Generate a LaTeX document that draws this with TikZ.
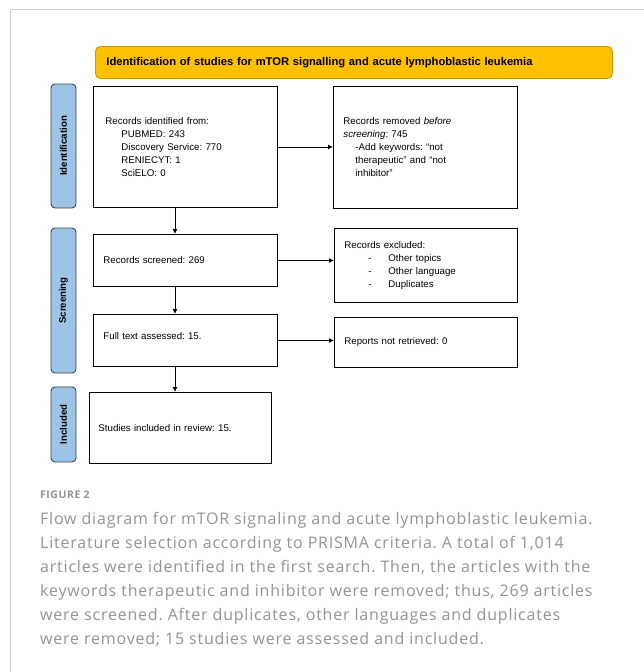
\documentclass[tikz,border=0pt]{standalone}
\usepackage{fontspec}
\setmainfont{Liberation Sans}
\newfontfamily\captionfont[LetterSpace=5]{Open Sans}
\usetikzlibrary{arrows.meta}
\frenchspacing

\definecolor{titleyellow}{HTML}{FFC000}
\definecolor{titleedge}{HTML}{C99A06}
\definecolor{phaseblue}{HTML}{9DC3E6}
\definecolor{phaseedge}{HTML}{3A4450}
\definecolor{captiongray}{HTML}{939393}
\definecolor{framegray}{HTML}{CCCCCC}

\tikzset{
  recbox/.style={draw=black, line width=0.9pt, fill=white, anchor=north west,
    inner ysep=0pt, inner xsep=10pt, align=left,
    font=\fontsize{9.7}{13}\selectfont},
  phasebox/.style={draw=phaseedge, line width=0.9pt, fill=phaseblue,
    rounded corners=4pt, rotate=90, minimum height=25pt, inner sep=0pt,
    font=\bfseries\fontsize{9.6}{10}\selectfont},
  flowarrow/.style={-{Latex[length=5pt,width=5pt]}, line width=0.9pt},
}

\begin{document}
\begin{tikzpicture}[x=1pt, y=-1pt]
  \useasboundingbox (0,0) rectangle (644,672);

  % card frame
  \draw[framegray, line width=0.8pt] (10,672) -- (10,9.5) -- (644,9.5);

  % Title bar
  \node[
    draw=titleedge,
    fill=titleyellow,
    line width=0.9pt,
    rounded corners=5pt,
    anchor=north west,
    minimum height=32pt,
    inner xsep=11pt,
    text width=495pt,
    align=left,
    font=\bfseries\fontsize{11.2}{12}\selectfont
  ] (title) at (95,46) {Identification of studies for mTOR signalling and acute lymphoblastic leukemia};

  % Phase labels down the left side
  \node[phasebox, minimum width=124pt] (idlabel) at (63.5,146) {Identification};
  \node[phasebox, minimum width=145pt] (scrlabel) at (63.5,300.5) {Screening};
  \node[phasebox, minimum width=75pt] (inclabel) at (63.5,424.5) {Included};

  % Identification row
  \node[recbox, inner xsep=12pt, text width=160pt, minimum height=121pt] (identified) at (93,86) {%
Records identified from:\\
\hspace*{16pt}PUBMED: 243\\
\hspace*{16pt}Discovery Service: 770\\
\hspace*{16pt}RENIECYT: 1\\
\hspace*{16pt}SciELO: 0};
  \node[recbox, text width=164pt, minimum height=122pt] (removed) at (333,86) {%
Records removed \textit{before}\\
\textit{screening}: 745\\
\hspace*{12pt}-Add keywords: “not\\
\hspace*{12pt}therapeutic” and “not\\
\hspace*{12pt}inhibitor”};

  % Screening rows
  \node[recbox, text width=164pt, minimum height=52pt] (screened) at (93,234) {Records screened: 269};
  \node[recbox, text width=163pt, minimum height=74pt] (excluded) at (334,228) {%
Records excluded:\\
\hspace*{24pt}\makebox[20pt][l]{-}Other topics\\
\hspace*{24pt}\makebox[20pt][l]{-}Other language\\
\hspace*{24pt}\makebox[20pt][l]{-}Duplicates};
  \node[recbox, text width=164pt, minimum height=52pt] (fulltext) at (93,314) {Full text assessed: 15.\\[-4pt] \mbox{}};
  \node[recbox, text width=163pt, minimum height=50pt] (notretrieved) at (334,317) {Reports not retrieved: 0};

  % Included row
  \node[recbox, inner xsep=9pt, text width=164pt, minimum height=71pt] (included) at (89,392) {Studies included in review: 15.};

  % connectors
  \coordinate (flowx) at (175,0);
  \draw[flowarrow] (identified.south -| flowx) -- (screened.north -| flowx);
  \draw[flowarrow] (screened.south -| flowx) -- (fulltext.north -| flowx);
  \draw[flowarrow] (fulltext.south -| flowx) -- (included.north -| flowx);
  \draw[flowarrow] (identified.east) -- (identified.east -| removed.west);
  \draw[flowarrow] (screened.east) -- (screened.east -| excluded.west);
  \draw[flowarrow] (fulltext.east) -- (fulltext.east -| notretrieved.west);

  % Figure caption
  \node[anchor=base west, inner sep=0pt, text=captiongray,
    font=\captionfont\bfseries\fontsize{10.5}{12}\selectfont] (figlabel) at (40,498) {FIGURE 2};
  \node[anchor=north west, inner sep=0pt, text=captiongray, align=left,
    font=\captionfont\fontsize{16}{24}\selectfont] (captext) at (40,512) {%
Flow diagram for mTOR signaling and acute lymphoblastic leukemia.\\
Literature selection according to PRISMA criteria. A total of 1,014\\
articles were identified in the first search. Then, the articles with the\\
keywords therapeutic and inhibitor were removed; thus, 269 articles\\
were screened. After duplicates, other languages and duplicates\\
were removed; 15 studies were assessed and included.};
\end{tikzpicture}
\end{document}
